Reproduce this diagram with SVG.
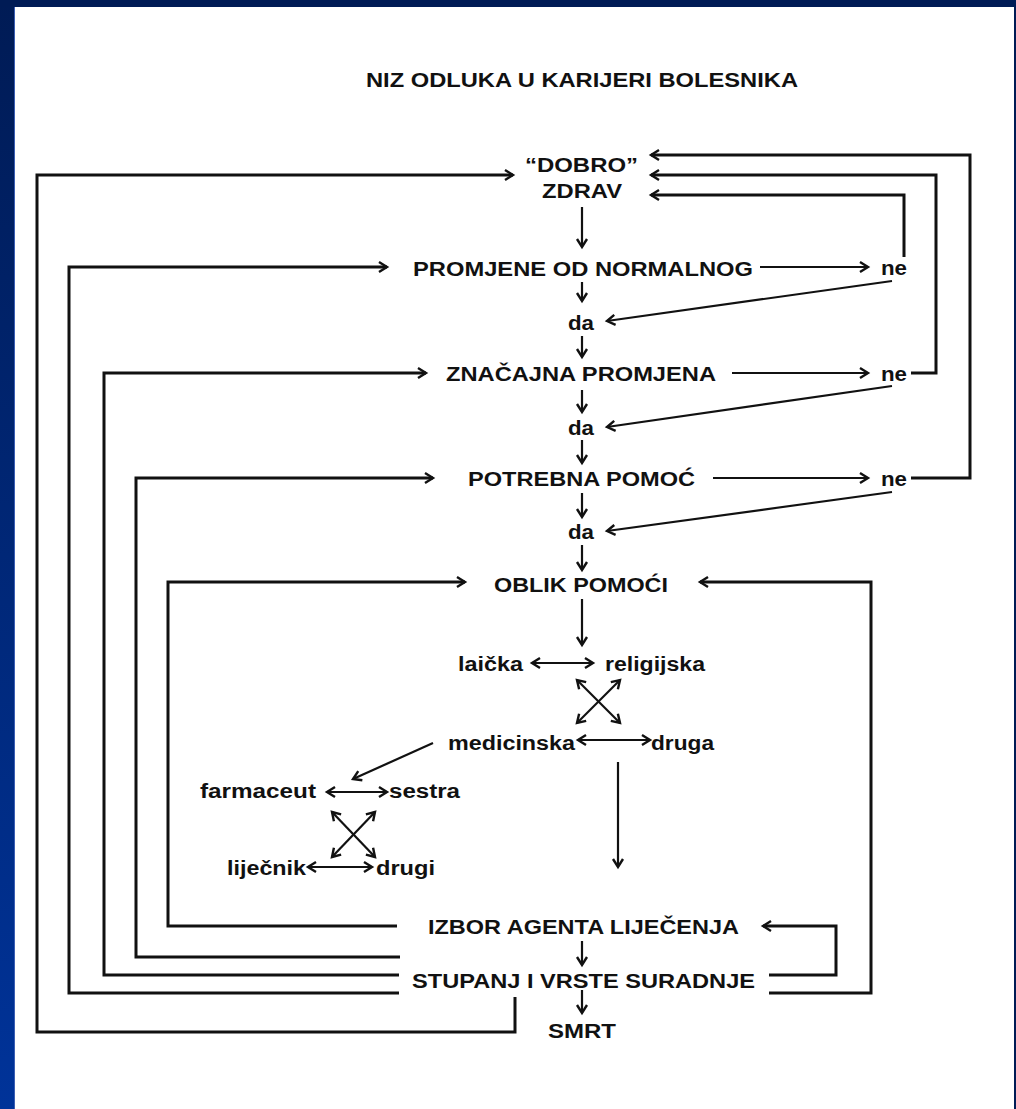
<svg xmlns="http://www.w3.org/2000/svg" width="1016" height="1109" viewBox="0 0 1016 1109">
<defs>
<linearGradient id="band" x1="0" y1="0" x2="0" y2="1">
<stop offset="0" stop-color="#001b55"/>
<stop offset="1" stop-color="#003399"/>
</linearGradient>
<marker id="ah" viewBox="0 0 10 12" refX="9" refY="6" markerWidth="10" markerHeight="12" markerUnits="userSpaceOnUse" orient="auto-start-reverse" overflow="visible">
<path d="M1,1 L9,6 L1,11" fill="none" stroke="#111" stroke-width="2.4" stroke-linejoin="miter"/>
</marker>
<style>
.t{font-family:"Liberation Sans",Arial,sans-serif;font-weight:bold;font-size:20px;fill:#111}
.ti{font-size:21px}
.loop{fill:none;stroke:#111;stroke-width:3}
.ar{fill:none;stroke:#111;stroke-width:2.2}
.a1{marker-end:url(#ah)}
.a2{marker-start:url(#ah);marker-end:url(#ah)}
</style>
</defs>
<rect x="0" y="0" width="1016" height="1109" fill="#ffffff"/>
<rect x="0" y="0" width="14" height="1109" fill="url(#band)"/>
<rect x="14" y="0" width="1" height="1109" fill="#3c5fb4"/>
<rect x="0" y="0" width="1016" height="7" fill="#001b55"/>
<rect x="1014" y="0" width="2" height="1109" fill="#001b55"/>

<text id="title" class="t ti" x="366" y="87" textLength="432" lengthAdjust="spacingAndGlyphs">NIZ ODLUKA U KARIJERI BOLESNIKA</text>

<g id="connectors">
<path class="loop a1" d="M515,997 V1032 H37 V175 H513"/>
<path class="loop a1" d="M399,993 H69 V267 H387"/>
<path class="loop a1" d="M399,975 H104 V373 H426"/>
<path class="loop a1" d="M400,957 H136 V478 H433"/>
<path class="loop a1" d="M397,926 H168 V582 H465"/>
<path class="loop a1" d="M769,993 H871 V582 H700"/>
<path class="loop a1" d="M769,975 H836 V926 H763"/>
<path class="loop a1" d="M904,257 V195 H651"/>
<path class="loop a1" d="M911,373 H936 V175 H651"/>
<path class="loop a1" d="M911,478 H970 V155 H651"/>
<path class="ar a1" d="M760,267 H868"/>
<path class="ar a1" d="M732,373 H868"/>
<path class="ar a1" d="M713,478 H868"/>
<path class="ar a1" d="M892,281 L607,321"/>
<path class="ar a1" d="M892,386 L607,427"/>
<path class="ar a1" d="M892,492 L607,531"/>
<path class="ar a1" d="M582,207 V247"/>
<path class="ar a1" d="M582,282 V301"/>
<path class="ar a1" d="M582,336 V357"/>
<path class="ar a1" d="M582,390 V412"/>
<path class="ar a1" d="M582,440 V463"/>
<path class="ar a1" d="M582,493 V517"/>
<path class="ar a1" d="M582,545 V570"/>
<path class="ar a1" d="M582,599 V645"/>
<path class="ar a1" d="M582,941 V965"/>
<path class="ar a1" d="M582,990 V1013"/>
<path class="ar a1" d="M618,762 V867"/>
<path class="ar a1" d="M433,743 L353,779"/>
<path class="ar a2" d="M532,663 H593"/>
<path class="ar a2" d="M578,740 H650"/>
<path class="ar a2" d="M327,792 H387"/>
<path class="ar a2" d="M308,867 H372"/>
<path class="ar a2" d="M577,680 L620,723"/>
<path class="ar a2" d="M620,680 L577,723"/>
<path class="ar a2" d="M332,812 L375,857"/>
<path class="ar a2" d="M375,812 L332,857"/>
</g>

<g id="n-dobro"><text class="t" x="525" y="172" textLength="113" lengthAdjust="spacingAndGlyphs">“DOBRO”</text><text class="t" x="542" y="198" textLength="80" lengthAdjust="spacingAndGlyphs">ZDRAV</text></g>
<g id="n-promjene"><text class="t" x="413" y="276" textLength="340" lengthAdjust="spacingAndGlyphs">PROMJENE OD NORMALNOG</text></g>
<g id="n-ne1"><text class="t" x="881" y="275" textLength="26" lengthAdjust="spacingAndGlyphs">ne</text></g>
<g id="n-da1"><text class="t" x="568" y="330" textLength="26" lengthAdjust="spacingAndGlyphs">da</text></g>
<g id="n-znacajna"><text class="t" x="446" y="381" textLength="270" lengthAdjust="spacingAndGlyphs">ZNAČAJNA PROMJENA</text></g>
<g id="n-ne2"><text class="t" x="881" y="381" textLength="26" lengthAdjust="spacingAndGlyphs">ne</text></g>
<g id="n-da2"><text class="t" x="568" y="435" textLength="26" lengthAdjust="spacingAndGlyphs">da</text></g>
<g id="n-potrebna"><text class="t" x="468" y="486" textLength="227" lengthAdjust="spacingAndGlyphs">POTREBNA POMOĆ</text></g>
<g id="n-ne3"><text class="t" x="881" y="486" textLength="26" lengthAdjust="spacingAndGlyphs">ne</text></g>
<g id="n-da3"><text class="t" x="568" y="539" textLength="26" lengthAdjust="spacingAndGlyphs">da</text></g>
<g id="n-oblik"><text class="t" x="494" y="592" textLength="174" lengthAdjust="spacingAndGlyphs">OBLIK POMOĆI</text></g>
<g id="n-laicka"><text class="t" x="458" y="671" textLength="65" lengthAdjust="spacingAndGlyphs">laička</text></g>
<g id="n-religijska"><text class="t" x="605" y="671" textLength="100" lengthAdjust="spacingAndGlyphs">religijska</text></g>
<g id="n-medicinska"><text class="t" x="448" y="750" textLength="127" lengthAdjust="spacingAndGlyphs">medicinska</text></g>
<g id="n-druga"><text class="t" x="651" y="750" textLength="63" lengthAdjust="spacingAndGlyphs">druga</text></g>
<g id="n-farmaceut"><text class="t" x="200" y="798" textLength="116" lengthAdjust="spacingAndGlyphs">farmaceut</text></g>
<g id="n-sestra"><text class="t" x="389" y="798" textLength="71" lengthAdjust="spacingAndGlyphs">sestra</text></g>
<g id="n-lijecnik"><text class="t" x="227" y="875" textLength="79" lengthAdjust="spacingAndGlyphs">liječnik</text></g>
<g id="n-drugi"><text class="t" x="376" y="875" textLength="59" lengthAdjust="spacingAndGlyphs">drugi</text></g>
<g id="n-izbor"><text class="t" x="428" y="934" textLength="311" lengthAdjust="spacingAndGlyphs">IZBOR AGENTA LIJEČENJA</text></g>
<g id="n-stupanj"><text class="t" x="412" y="988" textLength="343" lengthAdjust="spacingAndGlyphs">STUPANJ I VRSTE SURADNJE</text></g>
<g id="n-smrt"><text class="t" x="548" y="1038" textLength="68" lengthAdjust="spacingAndGlyphs">SMRT</text></g>
</svg>
